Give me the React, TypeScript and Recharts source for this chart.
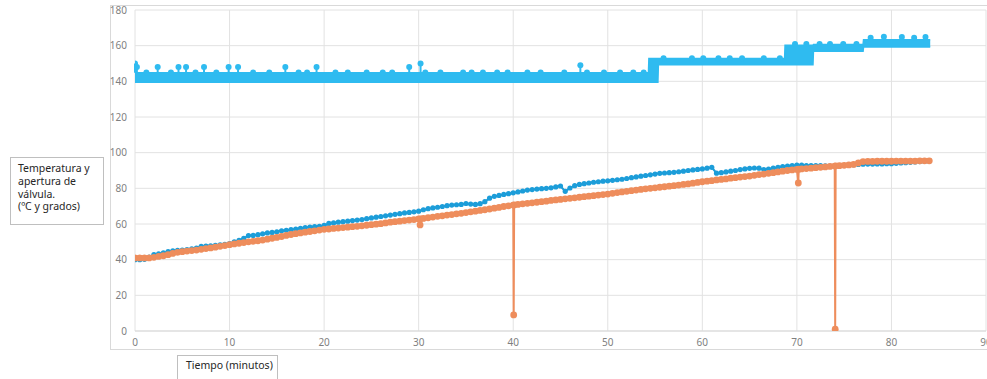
import {
  Area,
  CartesianGrid,
  ComposedChart,
  ErrorBar,
  Line,
  Scatter,
  XAxis,
  YAxis,
} from "recharts";

// sampling grid of the temperature logs (every half minute, 0 to 84 min)
const minutos = Array.from({ length: 169 }, (_, i) => i * 0.5);

// temperatura 1 (blue)
const tempAzul = [
  40, 40, 40.2, 41.5, 42.8, 43.2, 43.8, 44.5, 45, 45.2,
  45.4, 45.7, 46, 46.5, 47.5, 47.6, 47.8, 48, 48.3, 48.6,
  49, 50, 50.8, 52, 53.5, 53.6, 54, 54.5, 55, 55.3,
  55.6, 56.2, 56.5, 56.8, 57.2, 57.6, 58, 58.3, 58.5, 58.7,
  59.2, 60.3, 60.6, 61, 61.3, 61.6, 61.9, 62.2, 62.5, 63,
  63.4, 63.8, 64.2, 64.6, 65, 65.4, 65.8, 66.2, 66.5, 66.8,
  67.2, 68, 68.6, 69, 69.4, 69.8, 70.3, 70.6, 70.8, 71,
  71.5, 71.2, 71, 71.4, 72.5, 74.5, 75.5, 76, 76.6, 77,
  77.5, 78, 78.5, 79, 79.3, 79.6, 79.8, 80, 80.3, 80.8,
  81.3, 78.3, 80.2, 81.5, 82.2, 82.6, 83, 83.4, 83.7, 84,
  84.2, 84.5, 84.8, 85.1, 85.5, 86, 86.4, 86.8, 87.2, 87.6,
  88, 88.4, 88.6, 88.8, 89, 89.3, 89.6, 90, 90.3, 90.6,
  90.9, 91.3, 91.8, 88.5, 88.8, 89.2, 89.6, 90, 90.5, 90.9,
  91.2, 91.4, 91.3, 90.5, 90.8, 91.3, 91.8, 92.2, 92.5, 92.8,
  93, 93, 92.8, 92.8, 92.8, 92.7, 92.6, 92.5, 92.5, 92.6,
  92.8, 93, 93.2, 93.4, 93.5, 93.6, 93.6, 93.7, 93.7, 93.8,
  93.8, 94, 94.2, 94.4, 94.6, 94.8, 95, 95.1, 95.2,
];

// temperatura 2 (orange)
const tempNaranja = [
  41, 41, 41, 41, 41.3, 41.8, 42.2, 42.8, 43.5, 44.1,
  44.5, 44.8, 45.1, 45.4, 45.8, 46.2, 46.6, 47, 47.5, 47.9,
  48.4, 48.8, 49.2, 49.6, 50, 50.3, 50.6, 51, 51.5, 52,
  52.5, 53, 53.6, 54.1, 54.6, 55, 55.4, 55.8, 56.2, 56.6,
  57, 57.2, 57.5, 57.7, 58, 58.2, 58.5, 58.7, 59, 59.3,
  59.6, 59.9, 60.2, 60.6, 61, 61.3, 61.6, 61.9, 62.2, 62.5,
  62.8, 63.1, 63.5, 63.9, 64.3, 64.6, 65, 65.3, 65.7, 66,
  66.4, 66.8, 67.2, 67.6, 68, 68.4, 68.9, 69.3, 69.8, 70.2,
  70.6, 71, 71.3, 71.6, 71.9, 72.2, 72.5, 72.8, 73.2, 73.5,
  73.8, 74.1, 74.4, 74.7, 75, 75.3, 75.6, 75.9, 76.2, 76.5,
  76.8, 77.2, 77.6, 78, 78.3, 78.7, 79, 79.4, 79.7, 80,
  80.3, 80.6, 80.9, 81.2, 81.5, 81.8, 82.2, 82.5, 82.9, 83.3,
  83.7, 84, 84.3, 84.7, 85, 85.3, 85.7, 86, 86.3, 86.6,
  86.9, 87.3, 87.7, 88, 88.4, 88.8, 89.2, 89.6, 90, 90.3,
  90.6, 90.9, 91.1, 91.3, 91.6, 91.8, 92, 92.3, 92.5, 92.7,
  92.9, 93.1, 93.4, 94.2, 95, 95.1, 95.1, 95.2, 95.2, 95.2,
  95.2, 95.3, 95.3, 95.3, 95.3, 95.3, 95.4, 95.4, 95.4,
];

// single bad readings of the orange sensor and the reading right after [min, value]
const fallosNaranja: [number, number][] = [
  [30.15, 59.5],
  [30.2, 62.9],
  [40.05, 9],
  [40.1, 70.7],
  [70.15, 83],
  [70.2, 90.7],
  [74.05, 1],
  [74.1, 92.6],
];

// valve opening: dense band of readings [min, low, high]
const bandaValvula: [number, number, number][] = [
  [0, 139.5, 144.8],
  [54.3, 139.5, 144.8],
  [54.35, 139.5, 152.8],
  [55.3, 139.5, 152.8],
  [55.35, 149.3, 152.8],
  [68.7, 149.3, 152.8],
  [68.75, 149.3, 160.3],
  [71.7, 149.3, 160.3],
  [71.75, 156.8, 160.6],
  [77.0, 156.8, 160.6],
  [77.05, 159.3, 163.3],
  [84.1, 159.3, 163.3],
];

// valve readings standing out of the band [min, value, band top]
const picosValvula: [number, number, number][] = [
  [0, 150, 144.8], [0.2, 148, 144.8], [1.2, 145, 145], [2.4, 148, 144.8],
  [3.8, 145, 145], [4.6, 148, 144.8], [5.4, 148, 144.8], [6.4, 145, 145],
  [7.3, 148, 144.8], [8.6, 145, 145], [9.9, 148, 144.8], [10.9, 148, 144.8],
  [12.5, 145, 145], [14.2, 145, 145], [15.9, 148, 144.8], [17.3, 145, 145],
  [18.2, 145, 145], [19.2, 148, 144.8], [21.2, 145, 145], [22.5, 145, 145],
  [24.5, 145, 145], [26.2, 145, 145], [27.2, 145, 145], [29.0, 148, 144.8],
  [30.2, 150, 144.8], [30.7, 145, 145], [32.3, 145, 145], [34.7, 145, 145],
  [35.6, 145, 145], [36.8, 145, 145], [38.3, 145, 145], [39.4, 145, 145],
  [41.5, 145, 145], [42.9, 145, 145], [45.4, 145, 145], [47.1, 149, 144.8],
  [47.8, 145, 145], [49.6, 145, 145], [51.3, 145, 145], [52.7, 145, 145],
  [53.8, 145, 145], [55.9, 153, 153], [58.9, 153, 153], [60.1, 153, 153],
  [61.7, 153, 153], [62.9, 153, 153], [64.2, 153, 153], [66.5, 153, 153],
  [68.2, 153, 153], [69.8, 161, 161], [71.0, 161, 161], [72.4, 161, 161],
  [73.5, 161, 161], [74.9, 161, 161], [76.3, 161, 161], [77.8, 164.5, 163.3],
  [79.2, 165, 163.3], [81.1, 164.8, 163.3], [82.4, 164.5, 163.3], [83.6, 164.8, 163.3],
];

const xTicks = [0, 10, 20, 30, 40, 50, 60, 70, 80, 90];
const yTicks = [0, 20, 40, 60, 80, 100, 120, 140, 160, 180];

const CYAN = "#2FBBF0";
const BLUE = "#1C9DD9";
const ORANGE = "#EE8D5C";

const rows = new Map<number, any>();
const put = (t: number, key: string, v: any) => {
  const r = rows.get(t) ?? { t };
  r[key] = v;
  rows.set(t, r);
};
minutos.forEach((t, i) => {
  put(t, "azul", tempAzul[i]);
  put(t, "naranja", tempNaranja[i]);
});
fallosNaranja.forEach(([t, v]) => put(t, "naranja", v));
bandaValvula.forEach(([t, lo, hi]) => put(t, "banda", [lo, hi]));
const chartData = [...rows.values()].sort((a, b) => a.t - b.t);

const picos = picosValvula.map(([t, v, base]) => ({ t, v, stem: [v - base, 0] }));

const tickStyle = { fontSize: 10, fill: "#7f7f7f", fontFamily: "Noto Sans, sans-serif" };
const boxText = {
  fontFamily: "Noto Sans, sans-serif",
  fontSize: 10.5,
  color: "#262626",
  lineHeight: "12.8px",
};

export default function App() {
  return (
    <div
      style={{
        position: "absolute",
        left: 0,
        top: 0,
        width: 987,
        height: 379,
        overflow: "hidden",
        background: "#fff",
      }}
    >
      <div
        style={{
          position: "absolute",
          left: 110,
          top: 5,
          width: 900,
          height: 343,
          border: "1px solid #d9d9d9",
        }}
      />
      <div style={{ position: "absolute", left: 110, top: 0 }}>
        <ComposedChart
          width={877}
          height={350}
          data={chartData}
          margin={{ top: 10, right: 1, bottom: 0, left: 0 }}
        >
          <CartesianGrid stroke="#e2e2e2" />
          <XAxis
            type="number"
            dataKey="t"
            domain={[0, 90]}
            ticks={xTicks}
            interval={0}
            allowDataOverflow
            tick={tickStyle}
            tickLine={false}
            axisLine={{ stroke: "#d9d9d9" }}
            height={19}
          />
          <YAxis
            type="number"
            domain={[0, 180]}
            ticks={yTicks}
            interval={0}
            allowDataOverflow
            tick={tickStyle}
            tickLine={false}
            axisLine={false}
            width={25}
          />
          <Area
            dataKey="banda"
            type="linear"
            connectNulls
            stroke={CYAN}
            strokeWidth={1.5}
            fill={CYAN}
            fillOpacity={1}
            dot={false}
            activeDot={false}
            isAnimationActive={false}
          />
          <Scatter
            data={picos}
            dataKey="v"
            isAnimationActive={false}
            shape={(p: any) => <circle cx={p.cx} cy={p.cy} r={3} fill={CYAN} />}
          >
            <ErrorBar dataKey="stem" direction="y" width={0} stroke={CYAN} strokeWidth={2} />
          </Scatter>
          <Line
            dataKey="azul"
            type="linear"
            connectNulls
            stroke={BLUE}
            strokeWidth={2}
            dot={{ r: 2.6, fill: BLUE, stroke: BLUE, strokeWidth: 0 }}
            activeDot={false}
            isAnimationActive={false}
          />
          <Line
            dataKey="naranja"
            type="linear"
            connectNulls
            stroke={ORANGE}
            strokeWidth={2}
            dot={{ r: 3.4, fill: ORANGE, stroke: ORANGE, strokeWidth: 0 }}
            activeDot={false}
            isAnimationActive={false}
          />
        </ComposedChart>
      </div>
      <div
        style={{
          ...boxText,
          position: "absolute",
          left: 10,
          top: 157,
          width: 85,
          height: 58,
          padding: "4px 0 4px 7px",
          border: "1px solid #bfbfbf",
        }}
      >
        Temperatura y
        <br />
        apertura de
        <br />
        válvula.
        <br />
        (ºC y grados)
      </div>
      <div
        style={{
          ...boxText,
          position: "absolute",
          left: 177,
          top: 355,
          width: 91,
          height: 30,
          padding: "3px 0 0 8px",
          border: "1px solid #bfbfbf",
        }}
      >
        Tiempo (minutos)
      </div>
    </div>
  );
}
